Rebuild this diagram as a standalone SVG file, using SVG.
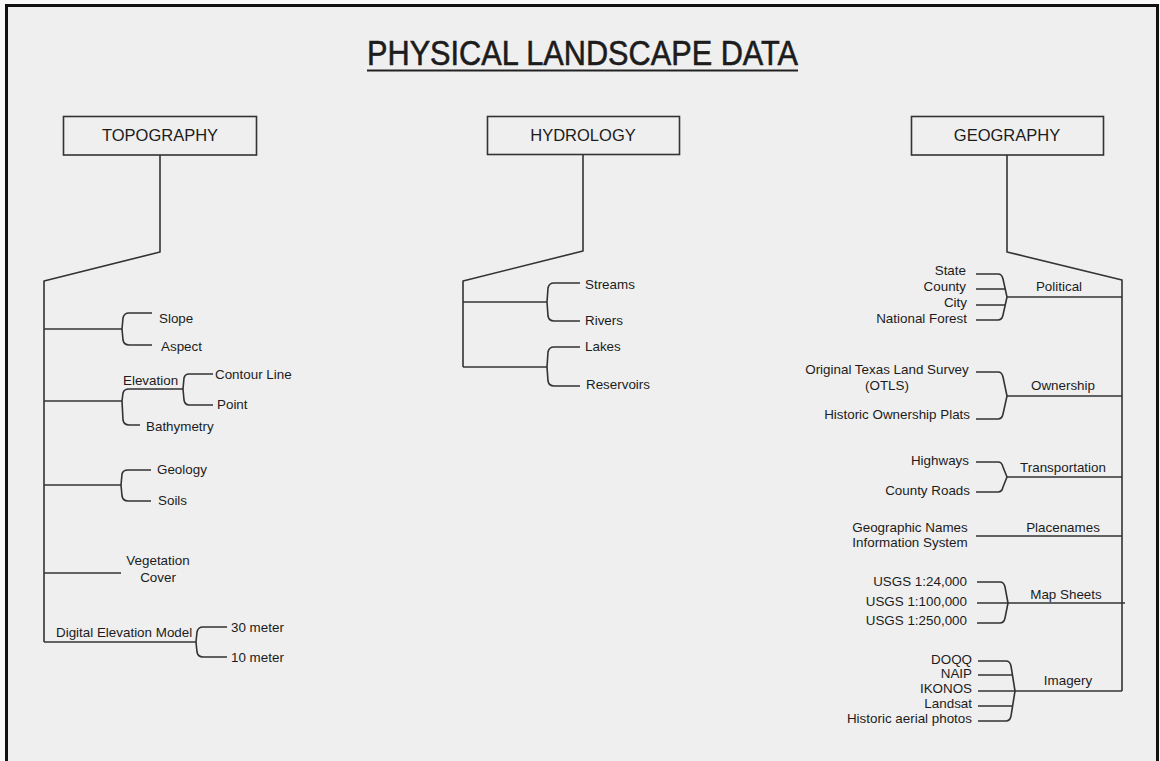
<svg xmlns="http://www.w3.org/2000/svg" width="1160" height="761" viewBox="0 0 1160 761">
<style>
.bg{fill:#efefef}
.frame{fill:none;stroke:#111;stroke-width:3}
.box{fill:none;stroke:#333;stroke-width:1.6}
.ln{fill:none;stroke:#333;stroke-width:1.6;stroke-linejoin:round}
text{font-family:"Liberation Sans",Arial,sans-serif;fill:#1c1c1c}
.t{font-size:35px;stroke:#1c1c1c;stroke-width:0.6}
.h{font-size:16.5px;text-anchor:middle}
.s{font-size:13.4px}
.e{text-anchor:end}
.m{text-anchor:middle}
</style>
<rect width="1160" height="761" fill="#fafafa"/>
<rect class="bg" x="7" y="6" width="1150" height="755"/>
<path class="frame" d="M6.5,761 V5.5 H1157.5 V761"/>

<g id="title">
<text class="t" x="367" y="65" textLength="431" lengthAdjust="spacingAndGlyphs">PHYSICAL LANDSCAPE DATA</text>
<line x1="367" y1="70.5" x2="798" y2="70.5" stroke="#222" stroke-width="2"/>
</g>

<g id="topography">
<rect class="box" x="63.5" y="116.5" width="193" height="38.5"/>
<text class="h" x="160" y="141">TOPOGRAPHY</text>
</g>
<g id="hydrology">
<rect class="box" x="487.5" y="116.5" width="192" height="38"/>
<text class="h" x="583" y="141">HYDROLOGY</text>
</g>
<g id="geography">
<rect class="box" x="911.5" y="116.5" width="192" height="38.5"/>
<text class="h" x="1007" y="141">GEOGRAPHY</text>
</g>

<g id="connectors">
<path class="ln" d="M160,155 V252 L44,281 V642"/>
<path class="ln" d="M44,329 H122"/>
<path class="ln" d="M152,313 H129 Q124,313 123,318 L122,329 L123,340 Q124,345 129,345 H152"/>
<path class="ln" d="M44,401 H122"/>
<path class="ln" d="M183,389 H129 Q124,389 123,393 L122,401 L123,420 Q124,425 129,425 H140"/>
<path class="ln" d="M213,374 H189 Q185,374 184,378 L183,389 L184,400 Q185,405 189,405 H213"/>
<path class="ln" d="M44,485 H121"/>
<path class="ln" d="M151,470 H128 Q123,470 122,474 L121,485 L122,496 Q123,501 128,501 H151"/>
<path class="ln" d="M44,573 H121"/>
<path class="ln" d="M44,642 H196"/>
<path class="ln" d="M227,627 H203 Q198,627 197,632 L196,642 L197,652 Q198,657 203,657 H227"/>

<path class="ln" d="M583,155 V251 L463,281 V367"/>
<path class="ln" d="M463,302 H547"/>
<path class="ln" d="M580,283 H554 Q549,283 548,288 L547,302 L548,316 Q549,321 554,321 H580"/>
<path class="ln" d="M463,367 H547"/>
<path class="ln" d="M580,347 H554 Q549,347 548,352 L547,367 L548,381 Q549,386 554,386 H580"/>

<path class="ln" d="M1007,155 V252 L1122,280 V691"/>
<path class="ln" d="M1007,297 H1122"/>
<path class="ln" d="M976,274 H998 Q1002,274 1003,279 L1007,297 L1003,315 Q1002,320 998,320 H976"/>
<path class="ln" d="M976,289 H1005 M976,305 H1005"/>
<path class="ln" d="M1007,396 H1122"/>
<path class="ln" d="M976,372 H998 Q1002,372 1003,377 L1007,396 L1003,414 Q1002,419 998,419 H976"/>
<path class="ln" d="M1007,477 H1122"/>
<path class="ln" d="M976,462 H998 Q1002,462 1003,467 L1007,477 L1003,487 Q1002,492 998,492 H976"/>
<path class="ln" d="M976,536 H1122"/>
<path class="ln" d="M977,603 H1125"/>
<path class="ln" d="M977,582 H1000 Q1004,582 1005,587 L1008,603 L1005,618 Q1004,623 1000,623 H977"/>
<path class="ln" d="M978,691 H1122"/>
<path class="ln" d="M978,661 H1006 Q1010,661 1011,666 L1015,691 L1011,716 Q1010,721 1006,721 H978"/>
<path class="ln" d="M978,675 H1013 M978,706 H1013"/>
</g>

<g id="topo-items">
<text class="s" x="159" y="323">Slope</text>
<text class="s" x="161" y="351">Aspect</text>
<text class="s" x="123" y="385">Elevation</text>
<text class="s" x="215" y="379">Contour Line</text>
<text class="s" x="217" y="409">Point</text>
<text class="s" x="146" y="431">Bathymetry</text>
<text class="s" x="157" y="474">Geology</text>
<text class="s" x="158" y="505">Soils</text>
<text class="s m" x="158" y="565">Vegetation</text>
<text class="s m" x="158" y="582">Cover</text>
<text class="s" x="56" y="637">Digital Elevation Model</text>
<text class="s" x="231" y="632">30 meter</text>
<text class="s" x="231" y="662">10 meter</text>
</g>

<g id="hydro-items">
<text class="s" x="585" y="289">Streams</text>
<text class="s" x="585" y="325">Rivers</text>
<text class="s" x="585" y="351">Lakes</text>
<text class="s" x="586" y="389">Reservoirs</text>
</g>

<g id="geo-items">
<text class="s e" x="966" y="275">State</text>
<text class="s e" x="966" y="291">County</text>
<text class="s e" x="967" y="307">City</text>
<text class="s e" x="967" y="323">National Forest</text>
<text class="s m" x="1059" y="291">Political</text>
<text class="s m" x="887" y="374">Original Texas Land Survey</text>
<text class="s m" x="887" y="390">(OTLS)</text>
<text class="s e" x="970" y="419">Historic Ownership Plats</text>
<text class="s m" x="1063" y="390">Ownership</text>
<text class="s e" x="969" y="465">Highways</text>
<text class="s e" x="970" y="495">County Roads</text>
<text class="s m" x="1063" y="472">Transportation</text>
<text class="s m" x="910" y="532">Geographic Names</text>
<text class="s m" x="910" y="547">Information System</text>
<text class="s m" x="1063" y="532">Placenames</text>
<text class="s e" x="967" y="586">USGS 1:24,000</text>
<text class="s e" x="967" y="606">USGS 1:100,000</text>
<text class="s e" x="967" y="625">USGS 1:250,000</text>
<text class="s m" x="1066" y="599">Map Sheets</text>
<text class="s e" x="972" y="664">DOQQ</text>
<text class="s e" x="972" y="678">NAIP</text>
<text class="s e" x="972" y="693">IKONOS</text>
<text class="s e" x="972" y="708">Landsat</text>
<text class="s e" x="972" y="723">Historic aerial photos</text>
<text class="s m" x="1068" y="685">Imagery</text>
</g>
</svg>
